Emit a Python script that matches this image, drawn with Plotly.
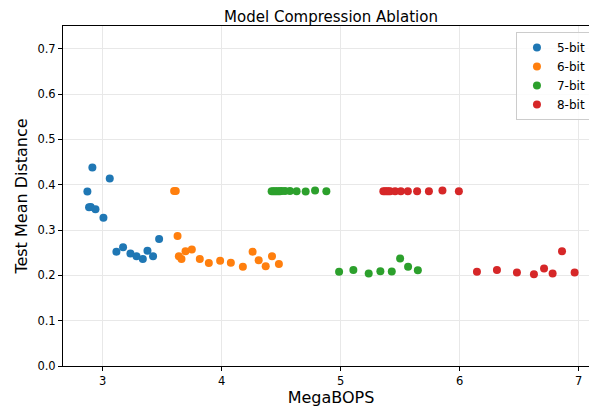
import plotly.graph_objects as go

series_names = ["5-bit", "6-bit", "7-bit", "8-bit"]
colors = ["#1f77b4", "#ff7f0e", "#2ca02c", "#d62728"]

x5 = [2.913, 3.059, 2.871, 2.885, 2.899, 2.939, 3.006, 3.115, 3.171, 3.233, 3.284, 3.337, 3.376, 3.423, 3.474]
y5 = [0.438, 0.4135, 0.385, 0.350, 0.351, 0.346, 0.327, 0.252, 0.262, 0.248, 0.242, 0.236, 0.254, 0.242, 0.280]

x6 = [3.600, 3.614, 3.629, 3.640, 3.662, 3.696, 3.749, 3.816, 3.892, 3.987, 4.077, 4.178, 4.260, 4.311, 4.370, 4.423, 4.481]
y6 = [0.386, 0.386, 0.287, 0.242, 0.236, 0.253, 0.257, 0.236, 0.227, 0.232, 0.228, 0.219, 0.252, 0.233, 0.220, 0.242, 0.225]

x7 = [4.420, 4.434, 4.448, 4.462, 4.476, 4.490, 4.504, 4.532, 4.574, 4.630, 4.706, 4.785, 4.880,
      4.987, 5.107, 5.236, 5.334, 5.430, 5.500, 5.567, 5.649]
y7 = [0.3855, 0.3855, 0.3855, 0.3855, 0.3855, 0.3855, 0.386, 0.386, 0.386, 0.3855, 0.385, 0.387, 0.3855,
      0.2077, 0.2115, 0.204, 0.209, 0.2085, 0.237, 0.219, 0.211]

x8 = [5.359, 5.373, 5.388, 5.402, 5.416, 5.458, 5.506, 5.565, 5.643, 5.742, 5.856, 5.994,
      6.146, 6.314, 6.482, 6.625, 6.710, 6.782, 6.861, 6.967]
y8 = [0.3855, 0.3855, 0.3855, 0.3855, 0.3855, 0.3855, 0.3855, 0.3855, 0.3855, 0.3855, 0.387, 0.3855,
      0.2077, 0.2115, 0.206, 0.2026, 0.215, 0.204, 0.253, 0.206]

xs = [x5, x6, x7, x8]
ys = [y5, y6, y7, y8]

x_ticks = [3, 4, 5, 6, 7]
y_ticks = [0.0, 0.1, 0.2, 0.3, 0.4, 0.5, 0.6, 0.7]

fig = go.Figure()
for name, c, x, y in zip(series_names, colors, xs, ys):
    fig.add_trace(go.Scatter(x=x, y=y, mode="markers", name=name,
                             marker=dict(color=c, size=8, line=dict(width=0))))

font_family = "DejaVu Sans"
fig.update_layout(
    width=597, height=408,
    margin=dict(l=55, r=6, t=18, b=50, autoexpand=False),
    paper_bgcolor="white", plot_bgcolor="white",
    font=dict(family=font_family, color="black", size=11.5),
    title=dict(text="Model Compression Ablation", x=0.5, xref="paper", xanchor="center",
               y=1, yref="paper", yanchor="bottom", pad=dict(b=4),
               font=dict(size=15, color="black")),
    showlegend=True,
    legend=dict(x=0.985, y=0.982, xanchor="right", yanchor="top",
                bgcolor="rgba(255,255,255,0.8)", bordercolor="#cccccc", borderwidth=1,
                font=dict(size=12), tracegroupgap=0),
)
fig.update_xaxes(range=[2.666, 7.172], tickvals=x_ticks, ticktext=[str(t) for t in x_ticks],
                 showgrid=True, gridcolor="#e8e8e8", gridwidth=1,
                 showline=True, linecolor="black", linewidth=1, mirror=True,
                 ticks="outside", ticklen=4, tickcolor="black", zeroline=False,
                 title=dict(text="MegaBOPS", font=dict(size=16), standoff=5),
                 tickfont=dict(size=11.5))
fig.update_yaxes(range=[0, 0.75], tickvals=y_ticks, ticktext=[f"{t:.1f}" for t in y_ticks],
                 showgrid=True, gridcolor="#e8e8e8", gridwidth=1,
                 showline=True, linecolor="black", linewidth=1, mirror=False,
                 ticks="outside", ticklen=4, tickcolor="black", zeroline=False,
                 title=dict(text="Test Mean Distance", font=dict(size=16), standoff=5),
                 tickfont=dict(size=11.5))

fig.write_html("out.html")
